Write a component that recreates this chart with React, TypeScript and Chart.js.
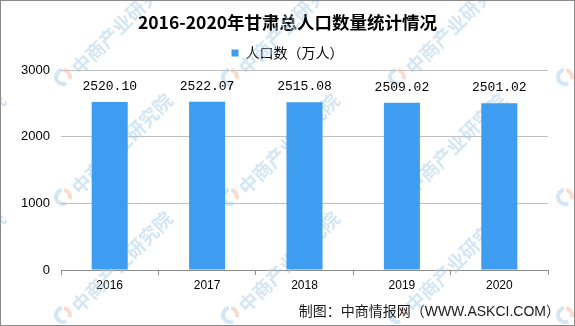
import React, { useEffect, useRef } from "react";
import { Chart, registerables } from "chart.js";

Chart.register(...registerables);

const categories = ["2016", "2017", "2018", "2019", "2020"];
const populationValues = [2520.1, 2522.07, 2515.08, 2509.02, 2501.02];
const yTicks = [0, 1000, 2000, 3000];
const seriesName = "人口数（万人）";
const titleText = "2016-2020年甘肃总人口数量统计情况";
const captionText = "制图：中商情报网（WWW.ASKCI.COM）";
const watermarkText = "中商产业研究院";
const watermarkXs = [-104, 63, 230, 397, 565];
const watermarkYs = [77, 197, 315, 435];

const BAR_COLOR = "#3F9DF1";

const bgPlugin = {
  id: "bgAndBorder",
  beforeDraw(chart: any) {
    const ctx = chart.ctx;
    ctx.save();
    ctx.fillStyle = "#ffffff";
    ctx.fillRect(0, 0, chart.width, chart.height);
    ctx.restore();
  },
  afterDraw(chart: any) {
    const ctx = chart.ctx;
    ctx.save();
    ctx.strokeStyle = "#8a8a8a";
    ctx.lineWidth = 1;
    ctx.strokeRect(0.5, 0.5, chart.width - 1, chart.height - 1);
    ctx.fillStyle = "#1a1a1a";
    ctx.font = '14px "Liberation Sans", "Noto Sans CJK SC", sans-serif';
    ctx.textAlign = "right";
    ctx.textBaseline = "middle";
    ctx.fillText(captionText, 560, 312);
    ctx.restore();
  },
};

const watermarkPlugin = {
  id: "watermark",
  beforeDatasetsDraw(chart: any) {
    const ctx = chart.ctx;
    ctx.save();
    for (const wx of watermarkXs) {
      for (const wy of watermarkYs) {
        ctx.lineWidth = 4;
        ctx.strokeStyle = "rgba(170,205,232,0.5)";
        ctx.beginPath();
        ctx.arc(wx, wy, 7, Math.PI * 0.35, Math.PI * 1.45);
        ctx.stroke();
        ctx.strokeStyle = "rgba(245,190,170,0.55)";
        ctx.beginPath();
        ctx.arc(wx, wy, 7, Math.PI * 1.55, Math.PI * 2.1);
        ctx.stroke();
        ctx.save();
        ctx.translate(wx + 12, wy - 6);
        ctx.rotate(-Math.PI / 4);
        ctx.fillStyle = "rgba(170,205,232,0.5)";
        ctx.font = 'bold 19px "Noto Sans CJK SC", sans-serif';
        ctx.textAlign = "left";
        ctx.textBaseline = "middle";
        ctx.fillText(watermarkText, 0, 0);
        ctx.restore();
      }
    }
    ctx.restore();
  },
};

const dataLabelPlugin = {
  id: "dataLabels",
  afterDatasetsDraw(chart: any) {
    const ctx = chart.ctx;
    const meta = chart.getDatasetMeta(0);
    ctx.save();
    ctx.fillStyle = "#000000";
    ctx.font = '13px "Liberation Mono", "DejaVu Sans Mono", monospace';
    ctx.textAlign = "center";
    ctx.textBaseline = "middle";
    meta.data.forEach((bar: any, i: number) => {
      ctx.fillText(populationValues[i].toFixed(2), bar.x, bar.y - 15.5);
    });
    ctx.restore();
  },
};

export default function App() {
  const canvasRef = useRef<HTMLCanvasElement | null>(null);

  useEffect(() => {
    document.body.style.margin = "0";
    const canvas = canvasRef.current;
    if (!canvas) return;
    const chart = new Chart(canvas, {
      type: "bar",
      data: {
        labels: categories,
        datasets: [
          {
            label: seriesName,
            data: populationValues,
            backgroundColor: BAR_COLOR,
            borderWidth: 0,
            barPercentage: 0.37,
            categoryPercentage: 1,
            yAxisID: "y",
          },
        ],
      },
      options: {
        responsive: false,
        animation: false,
        devicePixelRatio: 1,
        layout: { padding: 0 },
        plugins: {
          tooltip: { enabled: false },
          title: {
            display: true,
            text: titleText,
            color: "#000000",
            font: { family: '"Noto Sans CJK SC", sans-serif', size: 17.5, weight: "bold", lineHeight: 1.2 },
            padding: { top: 12, bottom: 4 },
          },
          legend: {
            display: true,
            position: "top",
            labels: {
              boxWidth: 7,
              boxHeight: 7,
              padding: 9,
              color: "#000000",
              font: { family: '"Noto Sans CJK SC", sans-serif', size: 14 },
            },
          },
        },
        scales: {
          x: {
            offset: true,
            grid: {
              offset: true,
              drawOnChartArea: false,
              drawTicks: true,
              tickLength: 5,
              color: "#8c8c8c",
            },
            border: { display: true, color: "#8c8c8c", width: 1 },
            ticks: {
              color: "#000000",
              padding: 3,
              font: { family: '"Liberation Sans", sans-serif', size: 12 },
            },
            afterFit(scale: any) {
              scale.height = 56;
            },
          },
          y: {
            min: 0,
            max: 3000,
            afterBuildTicks(scale: any) {
              scale.ticks = yTicks.map((v) => ({ value: v }));
            },
            grid: {
              drawTicks: false,
              color: "#c0c0c0",
            },
            border: { display: false },
            ticks: {
              color: "#000000",
              padding: 11,
              font: { family: '"Liberation Sans", sans-serif', size: 13 },
              callback: (value: any) => String(value),
            },
            afterFit(scale: any) {
              scale.width = 61;
            },
          },
          ySpacer: {
            position: "right",
            min: 0,
            max: 3000,
            grid: { display: false, drawTicks: false },
            border: { display: false },
            ticks: { display: false },
            afterFit(scale: any) {
              scale.width = 27;
            },
          },
        },
      },
      plugins: [bgPlugin, watermarkPlugin, dataLabelPlugin],
    });
    return () => chart.destroy();
  }, []);

  return (
    <div style={{ position: "absolute", left: 0, top: 0, width: 575, height: 326 }}>
      <canvas ref={canvasRef} width={575} height={326} style={{ display: "block" }} />
    </div>
  );
}
